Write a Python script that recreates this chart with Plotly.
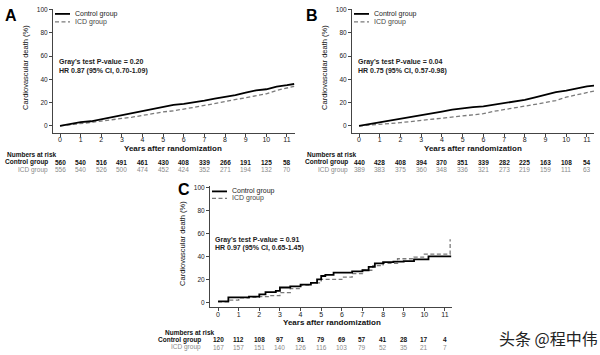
import plotly.graph_objects as go

W, H = 600, 355

# ---------------- data ----------------
years_ticks = list(range(12))

# Panels A and B (half-year readings)
t_ab = [0, 0.5, 1, 1.5, 2, 2.5, 3, 3.5, 4, 4.5, 5, 5.5, 6, 6.5, 7, 7.5, 8, 8.5, 9, 9.5, 10, 10.5, 11, 11.35]
a_control = [0, 1.5, 3.2, 4, 5.8, 7.5, 9.2, 11, 12.8, 14.5, 16.5, 18, 19, 20.2, 21.8, 23.5, 24.8, 26.5, 28.5, 30.5, 31.5, 33.8, 35, 36]
a_icd = [0, 0.8, 2, 3, 4.2, 5.2, 6.3, 7.5, 9, 10.8, 12, 13, 14.2, 16, 17.6, 19.3, 21, 23, 24.7, 26, 27.6, 30.5, 32.4, 34]

b_control = [0, 1.5, 3, 4.5, 6, 7.5, 8.8, 10.5, 12.3, 14, 15.3, 16.2, 16.8, 18.2, 20, 21.5, 22.4, 24.5, 26.8, 29, 30.4, 32.5, 34, 34.7]
b_icd = [0, 0.5, 1.1, 2, 2.8, 3.8, 4.8, 5.5, 6.5, 8, 9, 9.8, 10.5, 12.5, 14.2, 15.5, 17, 18.5, 20, 21.8, 24.7, 26.5, 28.4, 30]

# Panel C (step readings)
c_control_t = [0, 0.5, 1.5, 2, 2.3, 2.8, 3, 3.5, 4, 4.5, 4.8, 5, 5.2, 5.6, 6.5, 7, 7.3, 7.6, 8, 8.5, 9, 9.5, 10.2, 11.3]
c_control = [1, 4.5, 5, 7, 9, 10, 13, 14, 15.5, 17, 20, 23, 24, 26, 27, 28, 31, 34, 35, 35.5, 36, 37.5, 40, 40]
c_icd_t = [0, 0.5, 1, 1.5, 2, 2.5, 3, 3.5, 4, 4.5, 5, 6, 6.5, 7, 7.5, 8, 8.7, 9.5, 10, 11.25, 11.25]
c_icd = [0.5, 2, 4, 4.5, 5, 6, 8.5, 12, 15, 17, 20, 22, 25, 28, 32, 34, 38, 39.5, 42, 42, 55]

# Numbers at risk
a_risk_control = [560, 540, 516, 491, 461, 430, 408, 339, 266, 191, 125, 58]
a_risk_icd = [556, 540, 526, 500, 474, 452, 424, 352, 271, 194, 132, 70]
b_risk_control = [440, 428, 408, 394, 370, 351, 339, 282, 225, 163, 108, 54]
b_risk_icd = [389, 383, 375, 360, 348, 336, 321, 273, 219, 159, 111, 63]
c_risk_control = [120, 112, 108, 97, 91, 79, 69, 57, 41, 28, 17, 4]
c_risk_icd = [167, 157, 151, 140, 126, 116, 103, 79, 52, 35, 21, 7]

stats_a = ["Gray's test P-value = 0.20", "HR 0.87 (95% CI, 0.70-1.09)"]
stats_b = ["Gray's test P-value = 0.04", "HR 0.75 (95% CI, 0.57-0.98)"]
stats_c = ["Gray's test P-value = 0.91", "HR 0.97 (95% CI, 0.65-1.45)"]

FONT = "Liberation Sans"
NARROW = "Liberation Sans Narrow, Liberation Sans"
GRAY = "#8a8a8a"
DASH = "4px,2.5px"


def px(x):
    return x / W


def py(y):
    return 1 - y / H


fig = go.Figure()

panels = [
    dict(key="A", xa="x", ya="y", xd=(53, 295), yd=(131, 6), xr=(-0.34, 11.39), yr=(-6, 100.5),
         tc=t_ab, ctrl=a_control, ti=t_ab, icd=a_icd, shape="linear",
         rc=a_risk_control, ri=a_risk_icd, stats=stats_a),
    dict(key="B", xa="x2", ya="y2", xd=(352, 594), yd=(131, 6), xr=(-0.34, 11.34), yr=(-6, 100.5),
         tc=t_ab, ctrl=b_control, ti=t_ab, icd=b_icd, shape="linear",
         rc=b_risk_control, ri=b_risk_icd, stats=stats_b),
    dict(key="C", xa="x3", ya="y3", xd=(210, 452), yd=(307, 185), xr=(-0.39, 11.34), yr=(-4.3, 100.9),
         tc=c_control_t, ctrl=c_control, ti=c_icd_t, icd=c_icd, shape="hv",
         rc=c_risk_control, ri=c_risk_icd, stats=stats_c),
]

layout_axes = {}
annotations = []
shapes = []

for i, p in enumerate(panels):
    fig.add_trace(go.Scatter(x=p["ti"], y=p["icd"], mode="lines", xaxis=p["xa"], yaxis=p["ya"],
                             line=dict(color="#7a7a7a", width=1.3, dash=DASH, shape=p["shape"]),
                             showlegend=False))
    fig.add_trace(go.Scatter(x=p["tc"], y=p["ctrl"], mode="lines", xaxis=p["xa"], yaxis=p["ya"],
                             line=dict(color="black", width=1.8, shape=p["shape"]),
                             showlegend=False))
    suffix = "" if i == 0 else str(i + 1)
    xd0, xd1 = p["xd"]
    yb, yt = p["yd"]
    layout_axes["xaxis" + suffix] = dict(
        domain=[px(xd0), px(xd1)], range=list(p["xr"]), anchor=p["ya"],
        tickmode="array", tickvals=years_ticks, ticktext=[str(v) for v in years_ticks],
        showline=True, linecolor="#444", linewidth=1, ticks="outside", ticklen=3,
        tickcolor="#444", showgrid=False, zeroline=False, ticklabelstandoff=-3,
        tickfont=dict(family=FONT, size=7, color="#222"), fixedrange=True)
    layout_axes["yaxis" + suffix] = dict(
        domain=[py(yb), py(yt)], range=list(p["yr"]), anchor=p["xa"],
        tickmode="array", tickvals=[0, 20, 40, 60, 80, 100],
        showline=True, linecolor="#444", linewidth=1, ticks="outside", ticklen=3,
        tickcolor="#444", showgrid=False, zeroline=False,
        tickfont=dict(family=FONT, size=6.5, color="#222"), fixedrange=True)

    # panel letter
    if p["key"] == "A":
        lx, ly = 11, 13
    elif p["key"] == "B":
        lx, ly = 312, 13
    else:
        lx, ly = 184, 188
    annotations.append(dict(x=px(lx), y=py(ly), xref="paper", yref="paper", text="<b>%s</b>" % p["key"],
                            showarrow=False, font=dict(family=FONT, size=16, color="black"),
                            xanchor="center", yanchor="middle"))

    # y-axis title
    ymid = (yb + yt) / 2 - 3
    annotations.append(dict(x=px(xd0 - 27), y=py(ymid), xref="paper", yref="paper",
                            text="Cardiovascular death (%)", textangle=-90, showarrow=False,
                            font=dict(family=FONT, size=7.5, color="#111"),
                            xanchor="center", yanchor="middle"))
    # x-axis title
    x0px = xd0 + (0 - p["xr"][0]) / (p["xr"][1] - p["xr"][0]) * (xd1 - xd0)
    x11px = xd0 + (11 - p["xr"][0]) / (p["xr"][1] - p["xr"][0]) * (xd1 - xd0)
    annotations.append(dict(x=px((x0px + x11px) / 2), y=py(yb + 15.5), xref="paper", yref="paper",
                            text="<b>Years after randomization</b>", showarrow=False,
                            font=dict(family=FONT, size=8, color="#111"),
                            xanchor="center", yanchor="middle"))

    # legend (manual)
    if p["key"] == "C":
        lgx, lgy1, lgy2 = 212, 190, 197
    else:
        lgx = xd0 + 2
        lgy1, lgy2 = 11, 19
    shapes.append(dict(type="line", xref="paper", yref="paper", x0=px(lgx), x1=px(lgx + 15),
                       y0=py(lgy1), y1=py(lgy1), line=dict(color="black", width=1.8)))
    shapes.append(dict(type="line", xref="paper", yref="paper", x0=px(lgx), x1=px(lgx + 15),
                       y0=py(lgy2), y1=py(lgy2), line=dict(color="#7a7a7a", width=1.2, dash=DASH)))
    annotations.append(dict(x=px(lgx + 18), y=py(lgy1), xref="paper", yref="paper", text="Control group",
                            showarrow=False, font=dict(family=FONT, size=7, color="#222"),
                            xanchor="left", yanchor="middle"))
    annotations.append(dict(x=px(lgx + 18), y=py(lgy2), xref="paper", yref="paper", text="ICD group",
                            showarrow=False, font=dict(family=FONT, size=7, color="#444"),
                            xanchor="left", yanchor="middle"))

    # stats text
    if p["key"] == "C":
        sx, sy1, sy2 = 213, 239, 247
    else:
        sx, sy1, sy2 = xd0 + 4, 60, 69
    annotations.append(dict(x=px(sx), y=py(sy1), xref="paper", yref="paper", text="<b>%s</b>" % p["stats"][0],
                            showarrow=False, font=dict(family=FONT, size=7, color="#222"),
                            xanchor="left", yanchor="middle"))
    annotations.append(dict(x=px(sx), y=py(sy2), xref="paper", yref="paper", text="<b>%s</b>" % p["stats"][1],
                            showarrow=False, font=dict(family=FONT, size=7, color="#222"),
                            xanchor="left", yanchor="middle"))

    # numbers at risk
    if p["key"] == "C":
        nx, lab_r, ny0 = 163, 203, 332
    elif p["key"] == "A":
        nx, lab_r, ny0 = 5, 50, 153
    else:
        nx, lab_r, ny0 = 305, 350, 153
    annotations.append(dict(x=px(nx), y=py(ny0), xref="paper", yref="paper", text="<b>Numbers at risk</b>",
                            showarrow=False, font=dict(family=FONT, size=6.5, color="#111"),
                            xanchor="left", yanchor="middle"))
    annotations.append(dict(x=px(lab_r), y=py(ny0 + 7.5), xref="paper", yref="paper", text="<b>Control group</b>",
                            showarrow=False, font=dict(family=NARROW, size=6.5, color="#111"),
                            xanchor="right", yanchor="middle"))
    annotations.append(dict(x=px(lab_r), y=py(ny0 + 15), xref="paper", yref="paper", text="ICD group",
                            showarrow=False, font=dict(family=NARROW, size=6.5, color=GRAY),
                            xanchor="right", yanchor="middle"))
    for t, vc, vi in zip(years_ticks, p["rc"], p["ri"]):
        annotations.append(dict(x=t, y=py(ny0 + 7.5), xref=p["xa"], yref="paper", text="<b>%d</b>" % vc,
                                showarrow=False, font=dict(family=NARROW, size=6.5, color="#111"),
                                xanchor="center", yanchor="middle"))
        annotations.append(dict(x=t, y=py(ny0 + 15), xref=p["xa"], yref="paper", text=str(vi),
                                showarrow=False, font=dict(family=NARROW, size=6.5, color=GRAY),
                                xanchor="center", yanchor="middle"))

# watermark
annotations.append(dict(x=px(497), y=py(338), xref="paper", yref="paper", text="头条 @程中伟",
                        showarrow=False, font=dict(family="Noto Sans CJK SC", size=16, color="#222"),
                        xanchor="left", yanchor="middle"))

fig.update_layout(
    width=W, height=H, margin=dict(l=0, r=0, t=0, b=0),
    paper_bgcolor="white", plot_bgcolor="white",
    showlegend=False, annotations=annotations, shapes=shapes,
    **layout_axes)

fig.write_html("out.html")
